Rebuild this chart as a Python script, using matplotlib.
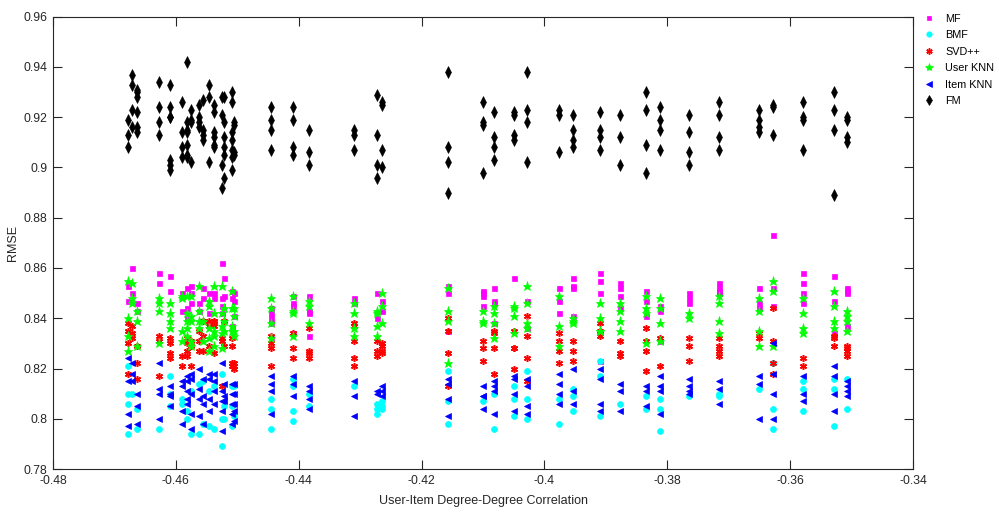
import matplotlib
matplotlib.use("Agg")
import matplotlib.pyplot as plt
from matplotlib.ticker import FuncFormatter, MultipleLocator

plt.rcParams['font.family'] = ['Liberation Sans', 'DejaVu Sans']
plt.rcParams['axes.unicode_minus'] = False

# degree-degree correlation of each dataset (one column of runs per value)
x_cols = [-0.46779, -0.46714, -0.46633, -0.46274, -0.46095, -0.45900, -0.45819,
          -0.45754, -0.45623, -0.45558, -0.45461, -0.45379, -0.45249, -0.45216,
          -0.45086, -0.45054, -0.44451, -0.44093, -0.43833, -0.43100, -0.42726,
          -0.42644, -0.41570, -0.41000, -0.40821, -0.40496, -0.40284, -0.39763,
          -0.39535, -0.39095, -0.38770, -0.38347, -0.38119, -0.37647, -0.37158,
          -0.36507, -0.36279, -0.35791, -0.35286, -0.35075]

# RMSE of every run, one list per column
rmse_mf = [
    [0.853, 0.847], [0.860, 0.850], [0.846, 0.843], [0.858, 0.854], [0.857, 0.851],
    [0.850, 0.843], [0.852, 0.844, 0.840], [0.853, 0.850, 0.846], [0.846, 0.843],
    [0.852, 0.848], [0.850, 0.842], [0.850, 0.848, 0.839], [0.862, 0.848, 0.845, 0.842],
    [0.856, 0.849], [0.851, 0.848, 0.837], [0.850, 0.847, 0.841],
    [0.844, 0.842, 0.840, 0.838, 0.832], [0.849, 0.846, 0.845, 0.834],
    [0.849, 0.843, 0.842, 0.833], [0.848, 0.846], [0.850, 0.840], [0.847, 0.843],
    [0.853, 0.850, 0.835], [0.851, 0.850, 0.849, 0.845], [0.852, 0.847, 0.846, 0.838],
    [0.856], [0.847, 0.836], [0.852, 0.847, 0.842], [0.856, 0.853, 0.852, 0.841],
    [0.858, 0.855, 0.850, 0.823], [0.854, 0.852, 0.849, 0.844], [0.851, 0.847, 0.841],
    [0.845, 0.843, 0.831], [0.850, 0.848, 0.846], [0.854, 0.852, 0.851, 0.850],
    [0.852, 0.846, 0.844], [0.873, 0.852, 0.845], [0.858, 0.854, 0.850, 0.846],
    [0.857, 0.847, 0.834], [0.852, 0.851, 0.850, 0.837],
]

rmse_bmf = [
    [0.821, 0.810, 0.806, 0.794], [0.810], [0.804, 0.796], [0.796], [0.817, 0.810, 0.805],
    [0.808, 0.806], [0.803, 0.800], [0.811, 0.794], [0.814, 0.794], [0.815, 0.798],
    [0.811, 0.797], [0.813, 0.796], [0.818, 0.800, 0.789], [0.805, 0.800],
    [0.813, 0.805, 0.797], [0.813, 0.801], [0.808, 0.804, 0.796],
    [0.816, 0.813, 0.803, 0.799], [0.810, 0.805], [0.813], [0.806, 0.804, 0.802],
    [0.807, 0.805, 0.804], [0.819, 0.807, 0.798], [0.807], [0.810, 0.796],
    [0.813, 0.808, 0.801], [0.819, 0.808, 0.800], [0.808, 0.798], [0.812, 0.809, 0.803],
    [0.823, 0.817, 0.801], [0.806], [0.809, 0.804], [0.808, 0.804, 0.795], [0.809],
    [0.810, 0.809], [0.812], [0.822, 0.804, 0.796], [0.815, 0.812, 0.803],
    [0.816, 0.812, 0.797], [0.816, 0.804],
]

rmse_svdpp = [
    [0.838, 0.835, 0.830, 0.818], [0.837, 0.834, 0.832], [0.829, 0.822, 0.816],
    [0.833, 0.831, 0.817], [0.832, 0.830, 0.826, 0.824], [0.825, 0.821],
    [0.832, 0.830, 0.827, 0.825], [0.831, 0.829, 0.821], [0.835, 0.831, 0.827],
    [0.839, 0.833, 0.827], [0.839, 0.837, 0.829], [0.839, 0.837, 0.826],
    [0.832, 0.831, 0.813], [0.839, 0.829], [0.832, 0.829, 0.822, 0.821],
    [0.822, 0.821, 0.820], [0.833, 0.830, 0.828, 0.821], [0.834, 0.828, 0.824],
    [0.836, 0.827, 0.826, 0.824], [0.838, 0.837, 0.831, 0.824, 0.821],
    [0.831, 0.827, 0.825], [0.830, 0.829, 0.827, 0.826], [0.840, 0.835, 0.826, 0.813],
    [0.831, 0.828, 0.823], [0.835, 0.834, 0.828, 0.818], [0.835, 0.828, 0.828, 0.820],
    [0.841, 0.833, 0.824, 0.815], [0.834, 0.831, 0.827, 0.822], [0.831, 0.827, 0.823],
    [0.838, 0.835, 0.833], [0.831, 0.826, 0.825], [0.836, 0.831, 0.827, 0.819],
    [0.832, 0.821], [0.832, 0.829, 0.823], [0.832, 0.829, 0.827, 0.825],
    [0.834, 0.832], [0.844, 0.831, 0.822, 0.818], [0.824, 0.821],
    [0.833, 0.832, 0.829], [0.829, 0.828, 0.827, 0.825],
]

rmse_user_knn = [
    [0.855, 0.840, 0.833, 0.827], [0.854, 0.848, 0.846], [0.843, 0.839, 0.829],
    [0.848, 0.846, 0.843, 0.830], [0.846, 0.842, 0.839, 0.836],
    [0.849, 0.848, 0.835, 0.831], [0.849, 0.842, 0.839, 0.836, 0.833],
    [0.849, 0.841, 0.839, 0.831, 0.829], [0.853, 0.843, 0.839, 0.836], [0.839, 0.831],
    [0.847, 0.845, 0.836, 0.832, 0.827], [0.853, 0.842, 0.835, 0.833, 0.829],
    [0.853, 0.842, 0.837, 0.834, 0.828], [0.844, 0.839, 0.835],
    [0.851, 0.844, 0.837, 0.835], [0.844, 0.841, 0.835, 0.833],
    [0.848, 0.844, 0.838, 0.832], [0.849, 0.843, 0.842, 0.833], [0.847, 0.845, 0.838],
    [0.846, 0.842, 0.836, 0.833], [0.843, 0.842, 0.837, 0.833], [0.850, 0.845, 0.838],
    [0.852, 0.843, 0.839, 0.822], [0.843, 0.839, 0.838], [0.845, 0.842, 0.838, 0.832],
    [0.845, 0.844, 0.841, 0.834], [0.853, 0.846, 0.838, 0.836], [0.849, 0.837, 0.829],
    [0.840, 0.839, 0.838], [0.846, 0.840, 0.835, 0.835], [0.846, 0.843, 0.839, 0.835],
    [0.849, 0.844, 0.842, 0.830], [0.848, 0.844, 0.838, 0.831], [0.842, 0.840],
    [0.849, 0.846, 0.839, 0.834], [0.848, 0.843, 0.835, 0.829], [0.855, 0.851, 0.829],
    [0.848, 0.842, 0.836, 0.834], [0.851, 0.845, 0.839, 0.836],
    [0.843, 0.841, 0.839, 0.835],
]

rmse_item_knn = [
    [0.824, 0.815, 0.802, 0.797], [0.822, 0.818, 0.815], [0.810, 0.805, 0.798],
    [0.822, 0.812, 0.810, 0.800], [0.813, 0.810, 0.809, 0.805],
    [0.815, 0.813, 0.803, 0.798], [0.817, 0.815, 0.811, 0.808, 0.806],
    [0.818, 0.816, 0.810, 0.802, 0.796], [0.820, 0.812, 0.808, 0.801],
    [0.816, 0.809, 0.806, 0.798], [0.818, 0.816, 0.808, 0.803],
    [0.818, 0.815, 0.811, 0.806], [0.822, 0.811, 0.807, 0.803, 0.795],
    [0.814, 0.809, 0.807], [0.814, 0.810, 0.806, 0.802, 0.798],
    [0.814, 0.810, 0.806, 0.803, 0.799], [0.817, 0.814, 0.811, 0.802],
    [0.817, 0.814, 0.809], [0.813, 0.811, 0.808, 0.804], [0.815, 0.809, 0.801],
    [0.811, 0.810], [0.813, 0.811, 0.809], [0.816, 0.814, 0.808, 0.801],
    [0.813, 0.809, 0.809, 0.804], [0.815, 0.813, 0.811, 0.802],
    [0.817, 0.816, 0.810, 0.803], [0.816, 0.813, 0.805, 0.802],
    [0.818, 0.814, 0.810, 0.806], [0.820, 0.811, 0.806], [0.820, 0.816, 0.806, 0.803],
    [0.814, 0.811, 0.803], [0.813, 0.811, 0.805], [0.817, 0.813, 0.811, 0.802],
    [0.816, 0.813, 0.811, 0.810], [0.815, 0.812, 0.806], [0.817, 0.814, 0.800],
    [0.830, 0.818, 0.810, 0.800], [0.817, 0.810, 0.807], [0.821, 0.817, 0.810, 0.803],
    [0.815, 0.813, 0.811, 0.809],
]

rmse_fm = [
    [0.919, 0.913, 0.908], [0.937, 0.933, 0.923, 0.916],
    [0.931, 0.930, 0.928, 0.922, 0.916, 0.914], [0.934, 0.924, 0.918, 0.913],
    [0.933, 0.924, 0.920, 0.920, 0.903, 0.901, 0.899], [0.926, 0.914, 0.908, 0.904],
    [0.942, 0.918, 0.915, 0.914, 0.909, 0.905, 0.904], [0.923, 0.919, 0.918, 0.902],
    [0.925, 0.920, 0.918, 0.916], [0.927, 0.915, 0.913, 0.911], [0.933, 0.928, 0.902],
    [0.925, 0.922, 0.914, 0.912, 0.909, 0.908], [0.928, 0.921, 0.901, 0.892],
    [0.928, 0.918, 0.912, 0.908, 0.905, 0.896],
    [0.930, 0.926, 0.914, 0.911, 0.907, 0.904, 0.899], [0.918, 0.917, 0.906, 0.905],
    [0.924, 0.919, 0.915, 0.907], [0.924, 0.919, 0.908, 0.905], [0.915, 0.906, 0.901],
    [0.915, 0.913, 0.907], [0.929, 0.913, 0.901, 0.896], [0.926, 0.925, 0.907, 0.900],
    [0.938, 0.908, 0.902, 0.890], [0.926, 0.918, 0.917, 0.898],
    [0.922, 0.912, 0.908, 0.903], [0.922, 0.921, 0.913, 0.911],
    [0.938, 0.923, 0.918, 0.902], [0.923, 0.921, 0.906], [0.921, 0.915, 0.911, 0.908],
    [0.922, 0.915, 0.912, 0.907], [0.921, 0.912, 0.901], [0.930, 0.923, 0.909, 0.898],
    [0.924, 0.919, 0.915, 0.907], [0.921, 0.914, 0.906, 0.901],
    [0.926, 0.921, 0.912, 0.907], [0.923, 0.919, 0.916, 0.914], [0.925, 0.924, 0.913],
    [0.926, 0.920, 0.919, 0.907], [0.930, 0.923, 0.915, 0.889],
    [0.920, 0.919, 0.912, 0.910],
]

methods = ['MF', 'BMF', 'SVD++', 'User KNN', 'Item KNN', 'FM']
series = [rmse_mf, rmse_bmf, rmse_svdpp, rmse_user_knn, rmse_item_knn, rmse_fm]

styles = {
    'MF': dict(marker='s', color='#ff00ff', markersize=3.6, markeredgewidth=0.5),
    'BMF': dict(marker='o', color='#00ffff', markersize=4.3, markeredgewidth=0.5),
    'SVD++': dict(marker=(6, 2, 0), color='#ff0000', markersize=5.0, markeredgewidth=1.1),
    'User KNN': dict(marker='*', color='#00ff00', markersize=6.8, markeredgewidth=0.5),
    'Item KNN': dict(marker='<', color='#0000ff', markersize=5.0, markeredgewidth=0.5),
    'FM': dict(marker='d', color='#000000', markersize=5.8, markeredgewidth=0.4),
}


def flatten(cols, values):
    xs, ys = [], []
    for x, runs in zip(cols, values):
        for v in runs:
            xs.append(x)
            ys.append(v)
    return xs, ys


fig = plt.figure(figsize=(9.99, 5.14), dpi=100)
ax = fig.add_axes([0.053, 0.0875, 0.861, 0.880])

for name, vals in zip(methods, series):
    xs, ys = flatten(x_cols, vals)
    st = styles[name]
    ax.plot(xs, ys, linestyle='none', marker=st['marker'], color=st['color'],
            markerfacecolor=st['color'], markeredgecolor=st['color'],
            markersize=st['markersize'], markeredgewidth=st['markeredgewidth'],
            label=name)

ax.set_xlim(-0.48, -0.34)
ax.set_ylim(0.78, 0.96)
ax.xaxis.set_major_locator(MultipleLocator(0.02))
ax.yaxis.set_major_locator(MultipleLocator(0.02))
fmt = FuncFormatter(lambda v, pos: '%g' % round(v, 4))
ax.xaxis.set_major_formatter(fmt)
ax.yaxis.set_major_formatter(fmt)

for sp in ax.spines.values():
    sp.set_color('#262626')
    sp.set_linewidth(0.8)
ax.tick_params(direction='in', length=6.5, width=0.8, color='#262626',
               labelcolor='#262626', labelsize=8.8, top=True, right=True, pad=4)

ax.set_xlabel('User-Item Degree-Degree Correlation', fontsize=9, color='#262626', labelpad=6)
ax.set_ylabel('RMSE', fontsize=9, color='#262626', labelpad=3)

fig.legend(loc='upper left', bbox_to_anchor=(0.917, 0.988), frameon=False,
           fontsize=7.8, handlelength=1.0, handletextpad=1.0, labelspacing=0.6,
           borderpad=0.2, markerscale=0.9)

fig.savefig('out.png', dpi=100)
